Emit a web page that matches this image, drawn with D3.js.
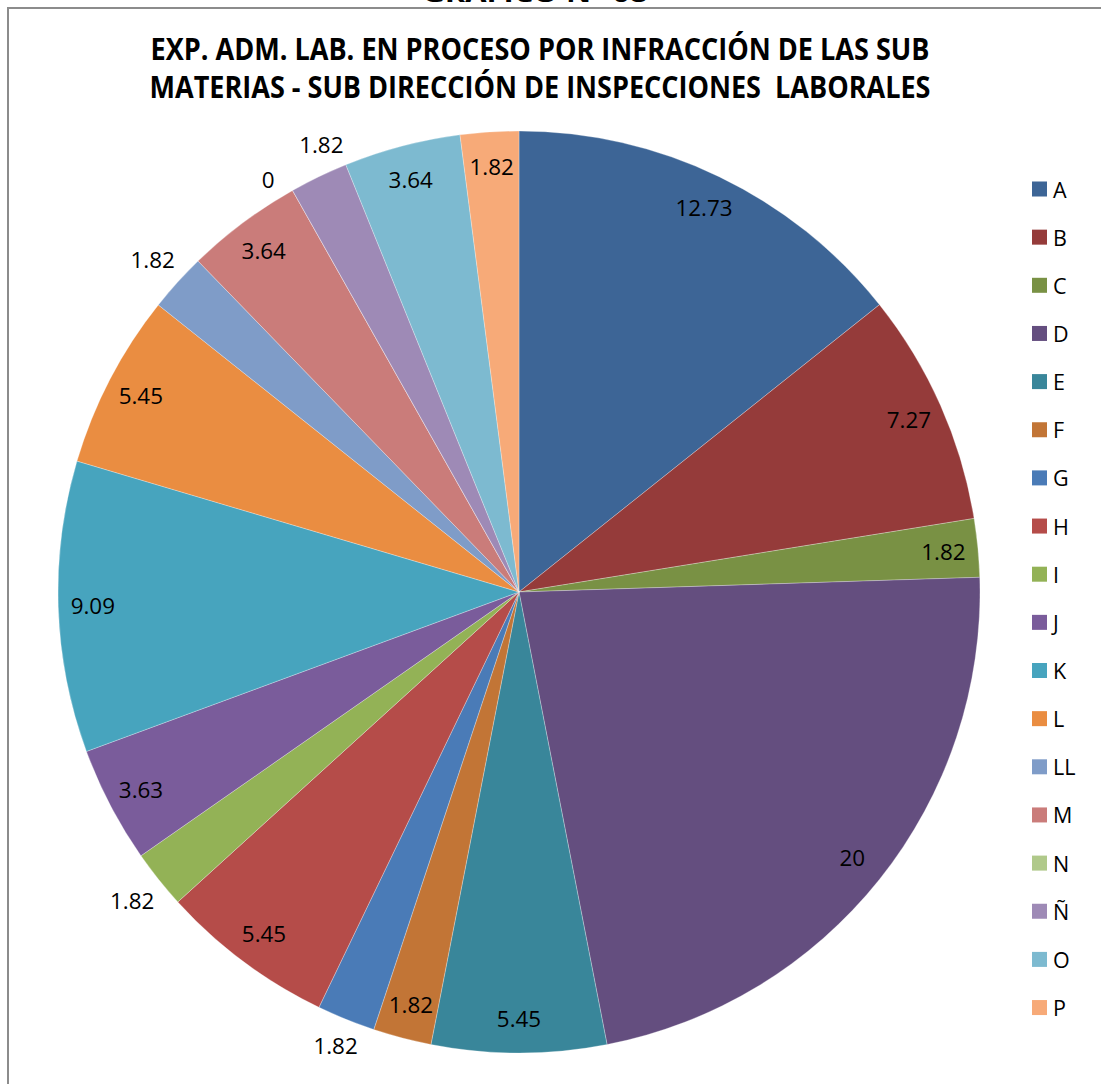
<!DOCTYPE html>
<html>
<head>
<meta charset="utf-8">
<script src="https://cdn.jsdelivr.net/npm/d3@7"></script>
<style>
  body { margin: 0; background: #fff; }
  svg text { font-family: "Open Sans", "Noto Sans", sans-serif; }
</style>
</head>
<body>
<div id="chart"></div>
<script>
const width = 1101,
    height = 1084;

// data
const categories = ['A', 'B', 'C', 'D', 'E', 'F', 'G', 'H', 'I', 'J', 'K', 'L', 'LL', 'M', 'N', 'Ñ', 'O', 'P'];
const values = [12.73, 7.27, 1.82, 20, 5.45, 1.82, 1.82, 5.45, 1.82, 3.63, 9.09, 5.45, 1.82, 3.64, 0, 1.82, 3.64, 1.82];
const colors = ['#3d6596', '#953b3a', '#799144', '#644e7f', '#39869a', '#c27536',
    '#4a7bb7', '#b54c49', '#93b256', '#7a5c9b', '#47a4be', '#ea8d41',
    '#7f9cc8', '#ca7c7a', '#b0c98a', '#9e8ab6', '#7dbad0', '#f7aa78'];
// labels Excel put outside the pie
const outsideLabels = ['G', 'I', 'LL', 'N', 'Ñ'];
const titleLines = ['EXP. ADM. LAB. EN PROCESO POR INFRACCIÓN DE LAS SUB',
    'MATERIAS - SUB DIRECCIÓN DE INSPECCIONES  LABORALES'];

const cx = 519, cy = 592, radius = 461;

const data = categories.map((c, i) => ({ cat: c, value: values[i], color: colors[i] }));

const svg = d3.select('#chart')
    .append('svg')
    .attr('width', width)
    .attr('height', height);

// cut-off heading above the frame
svg.append('text')
    .attr('x', 535)
    .attr('y', 2)
    .attr('text-anchor', 'middle')
    .attr('font-weight', 'bold')
    .attr('font-size', 24)
    .attr('textLength', 225)
    .attr('lengthAdjust', 'spacingAndGlyphs')
    .text('GRÁFICO N° 08');

// frame (only top and left edges are in view)
svg.append('path')
    .attr('d', 'M8,' + height + ' L8,8 L' + width + ',8')
    .attr('fill', 'none')
    .attr('stroke', '#8c8c8c')
    .attr('stroke-width', 2);

// title
svg.selectAll('.title')
    .data(titleLines)
    .enter()
    .append('text')
    .attr('class', 'title')
    .attr('x', 540)
    .attr('y', (d, i) => 60 + i * 38)
    .attr('text-anchor', 'middle')
    .attr('font-weight', 'bold')
    .attr('font-size', 29.5)
    .attr('fill', '#000')
    .attr('textLength', (d, i) => i == 0 ? 779 : 781)
    .attr('lengthAdjust', 'spacingAndGlyphs')
    .style('white-space', 'pre')
    .text(d => d);

const pie = d3.pie()
    .sort(null)
    .value(d => d.value);

const arc = d3.arc()
    .innerRadius(0)
    .outerRadius(radius);

const arcs = pie(data);

const g = svg.append('g')
    .attr('transform', 'translate(' + cx + ',' + cy + ')');

g.selectAll('.slice')
    .data(arcs)
    .enter()
    .append('path')
    .attr('class', 'slice')
    .attr('d', arc)
    .attr('fill', d => d.data.color)
    .attr('stroke', '#ffffff')
    .attr('stroke-opacity', 0.35)
    .attr('stroke-width', 0.8);

// label angles; outside labels that crowd each other get pushed apart
const minSep = 7.5 * Math.PI / 180;
arcs.forEach(d => {
    d.mid = (d.startAngle + d.endAngle) / 2;
    d.outside = outsideLabels.includes(d.data.cat);
});
let outs = arcs.filter(d => d.outside);
for (let k = 1; k < outs.length; k++) {
    let a = outs[k - 1], b = outs[k];
    let gap = b.mid - a.mid;
    if (gap < minSep) {
        let push = (minSep - gap) / 2;
        a.mid -= push;
        b.mid += push;
    }
}

let labelPos = (d) => {
    let s = Math.sin(d.mid), c = -Math.cos(d.mid);
    let dist;
    if (d.outside) {
        // keep the box edge a small gap off the rim
        let w = String(d.data.value).length * 11.5, h = 22;
        dist = radius + 9 + Math.abs(s) * w / 2 + Math.abs(c) * h / 2;
    } else {
        dist = radius * 0.925;
    }
    return [s * dist, c * dist];
};

// data labels
g.selectAll('.lbl')
    .data(arcs)
    .enter()
    .append('text')
    .attr('class', 'lbl')
    .attr('transform', d => {
        let p = labelPos(d);
        return 'translate(' + p[0] + ',' + p[1] + ')';
    })
    .attr('text-anchor', 'middle')
    .attr('dominant-baseline', 'central')
    .attr('font-size', 22.4)
    .attr('fill', '#000')
    .text(d => d.data.value);

// legend
const legend = svg.selectAll('.legend')
    .data(data)
    .enter()
    .append('g')
    .attr('class', 'legend')
    .attr('transform', (d, i) => 'translate(1032,' + (189 + i * 48.15) + ')');

legend.append('rect')
    .attr('x', 0)
    .attr('y', -7.5)
    .attr('width', 15)
    .attr('height', 15)
    .attr('fill', d => d.color);

legend.append('text')
    .attr('x', 21)
    .attr('y', 0)
    .attr('dominant-baseline', 'central')
    .attr('font-size', 21.5)
    .attr('fill', '#000')
    .text(d => d.cat);
</script>
</body>
</html>
